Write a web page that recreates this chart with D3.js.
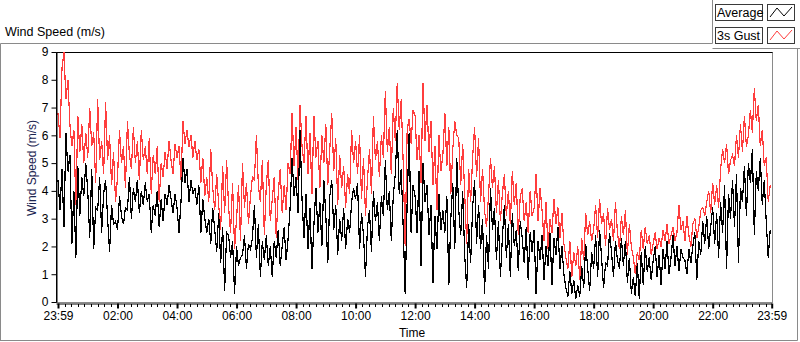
<!DOCTYPE html>
<html>
<head>
<meta charset="utf-8">
<script src="https://cdn.jsdelivr.net/npm/d3@7"></script>
<style>
  body { margin: 0; background: #fff; }
  svg { display: block; font-family: "Liberation Sans", Arial, sans-serif; }
</style>
</head>
<body>
<div id="display"></div>
<script>
// one sample every 4 minutes, 15 per hour, starting 00:00
var sampleStep = 4;

var gust = [
  6.8,5.9,8.4,9.0,7.3,8.0,6.4,5.6,6.2,3.5,6.7,5.4,6.4,5.0,6.1,
  5.2,7.0,5.6,6.1,4.3,7.3,5.1,5.8,4.6,7.2,5.1,6.0,4.2,5.4,3.6,
  4.5,6.2,5.0,5.6,4.1,6.5,5.3,4.8,6.3,5.0,5.8,4.4,6.2,5.1,5.6,
  4.6,5.9,3.9,5.3,4.6,5.6,3.6,5.0,4.5,5.4,4.8,5.8,5.1,4.6,5.7,
  5.2,5.6,4.4,6.5,5.7,6.2,5.6,6.0,5.2,5.8,5.1,5.5,4.3,5.2,3.8,
  4.5,3.6,5.5,4.1,3.3,4.6,3.5,2.6,4.9,3.2,5.1,3.4,2.5,4.3,1.9,
  3.0,4.2,2.2,5.0,3.4,4.3,2.8,3.8,4.5,4.4,6.0,4.2,3.6,5.1,2.4,
  4.2,5.1,2.9,3.7,4.5,2.3,3.9,4.8,3.2,4.2,3.3,5.0,4.6,6.8,4.9,
  6.3,4.4,7.1,5.6,5.0,6.7,4.6,6.1,3.9,6.7,5.2,5.8,4.1,6.0,5.0,
  6.4,4.2,5.5,6.8,4.7,5.9,3.5,5.3,4.1,4.9,3.4,4.6,3.9,6.2,5.0,
  5.8,4.6,6.0,3.7,5.2,3.1,4.4,5.5,3.9,6.7,5.1,5.8,4.5,6.0,5.2,
  7.6,5.4,6.3,4.6,7.0,5.8,7.9,6.2,7.3,5.0,2.0,6.2,6.6,5.7,6.9,
  6.7,5.1,6.0,4.3,7.9,5.8,7.1,5.4,6.5,4.2,5.6,3.3,6.0,4.7,5.3,
  6.8,4.9,6.3,3.9,5.5,6.5,6.0,5.9,4.2,5.7,3.9,2.1,4.8,3.6,5.2,
  6.3,4.5,5.9,3.6,4.8,3.3,2.7,3.8,5.2,4.1,4.9,3.2,4.4,2.9,3.9,
  4.6,3.1,4.0,2.8,4.7,3.5,4.3,2.4,3.8,4.1,2.9,3.6,2.5,4.0,3.1,
  3.4,4.6,2.9,4.1,3.3,2.2,3.6,1.9,3.0,2.5,3.7,2.8,3.4,2.3,3.2,
  2.1,1.6,1.2,2.2,0.9,1.8,1.3,2.0,0.8,2.3,1.5,3.2,2.4,2.9,2.2,
  2.6,3.5,2.3,3.7,2.8,3.2,2.0,3.4,2.6,3.0,2.2,3.6,2.5,1.9,3.1,
  2.4,3.3,1.7,2.8,2.0,1.6,1.0,1.8,1.5,2.6,1.9,2.7,2.1,2.4,1.7,
  2.1,2.5,1.9,2.3,2.0,2.6,2.2,2.8,2.1,2.4,2.7,2.2,2.5,3.5,2.6,
  2.9,2.2,3.1,2.4,2.0,2.8,3.0,2.3,2.7,3.3,3.4,3.1,3.6,4.0,3.2,
  4.3,3.5,4.2,3.4,4.8,5.5,5.0,5.7,4.6,5.1,5.3,4.9,6.0,5.2,6.4,
  5.4,6.7,5.6,6.0,6.9,6.1,7.7,6.5,7.1,5.6,6.2,4.9,5.2,3.6,4.2
];

var average = [
  4.4,3.3,4.8,2.7,6.1,4.7,5.3,2.1,4.0,1.6,4.9,3.1,4.5,3.8,5.0,
  4.0,2.3,4.8,1.9,3.4,3.3,4.5,2.5,3.9,4.4,3.0,1.8,3.5,2.8,2.9,
  2.6,3.8,3.1,2.8,3.4,3.3,4.5,3.0,4.1,3.6,4.4,3.2,4.0,3.5,4.3,
  3.6,3.9,2.5,3.5,3.1,4.0,2.7,3.7,2.9,3.9,3.5,4.2,3.7,3.2,3.9,
  3.4,2.5,3.6,5.2,4.3,4.8,3.6,4.4,3.9,4.1,3.5,4.2,2.5,3.7,3.0,
  2.5,3.0,2.1,3.4,2.6,1.8,3.2,1.4,2.7,0.4,2.5,2.4,1.6,2.2,0.3,
  2.0,1.3,1.6,1.7,2.4,1.2,2.1,1.9,2.3,3.5,1.6,2.8,0.9,2.2,1.5,
  2.4,1.3,2.0,0.9,2.2,1.6,2.6,1.3,2.0,2.7,1.5,2.3,3.4,5.2,3.8,
  4.5,3.2,6.2,3.7,2.3,3.9,1.9,3.4,1.2,2.8,4.1,2.5,3.6,2.0,4.4,
  3.1,1.4,3.8,4.4,2.6,3.5,1.7,3.0,2.2,3.4,1.9,3.0,2.5,3.6,4.1,
  3.7,4.3,1.9,3.2,2.4,0.9,2.7,3.3,1.8,4.0,2.9,3.6,2.2,3.8,3.1,
  5.1,3.3,4.0,2.2,3.8,4.6,6.2,3.9,4.8,2.7,0.3,3.6,6.1,2.5,4.2,
  3.8,2.5,4.7,1.3,5.0,3.6,4.2,2.4,3.5,0.7,3.1,1.9,3.9,2.6,3.3,
  2.5,3.8,0.6,3.0,4.3,1.9,5.2,3.3,2.4,4.0,1.7,0.5,2.8,1.4,3.4,
  4.4,2.1,3.5,1.9,3.0,0.3,2.4,1.2,4.1,2.6,3.4,1.5,2.9,0.9,2.3,
  3.5,1.6,2.8,0.9,3.2,2.0,2.6,1.1,2.9,2.3,1.4,2.7,0.8,2.5,1.8,
  2.6,0.3,2.2,1.5,2.4,0.8,2.0,1.3,2.5,0.6,2.3,1.7,2.7,1.2,2.0,
  1.0,0.5,0.2,1.1,0.3,0.8,0.1,0.6,0.2,1.3,0.5,2.1,1.2,0.4,1.8,
  1.2,2.4,0.9,2.6,1.6,0.5,1.4,1.3,2.5,1.8,0.9,2.2,1.5,1.2,2.3,
  1.3,2.2,0.7,1.6,0.3,0.9,0.2,1.4,0.1,1.8,0.6,2.0,1.1,1.6,0.8,
  1.5,2.0,0.9,1.7,0.6,1.9,1.2,2.2,1.0,1.6,2.4,1.3,2.0,1.1,1.9,
  1.6,1.5,1.0,1.9,1.4,2.0,2.5,0.8,2.2,1.7,2.9,2.1,3.1,1.9,2.7,
  3.4,2.1,3.2,1.6,3.6,2.5,4.2,1.2,3.9,3.0,4.4,2.7,4.6,1.4,4.1,
  3.6,4.9,3.1,5.0,4.3,5.5,2.4,4.7,4.0,5.2,3.5,4.4,2.9,1.6,2.6
];

var timeTicks = [0, 120, 240, 360, 480, 600, 720, 840, 960, 1080, 1200, 1320, 1439];
var timeLabels = ["23:59", "02:00", "04:00", "06:00", "08:00", "10:00", "12:00",
                  "14:00", "16:00", "18:00", "20:00", "22:00", "23:59"];
var speedTicks = [0, 1, 2, 3, 4, 5, 6, 7, 8, 9];
var legendNames = ["Average", "3s Gust"];
var legendColors = ["#000000", "#ff3d3d"];

var width = 800, height = 342;
var plot = {left: 56.5, right: 772.5, top: 52.5, bottom: 302.5};

var svg = d3.select("#display")
    .append("svg")
    .attr("width", width)
    .attr("height", height);

// outer frame
svg.append("path")
    .attr("d", "M0.5,341 V43.5 H712.5 V0 M712.5,48.5 H800 M797.5,48.5 V340.5 H0.5")
    .attr("fill", "none")
    .attr("stroke", "#8a8a8a");

svg.append("text")
    .attr("x", 5)
    .attr("y", 36)
    .style("font-size", "12.5px")
    .text("Wind Speed (m/s)");

var x = d3.scaleLinear()
    .domain([0, 1439])
    .range([58, 771.7]);

var y = d3.scaleLinear()
    .domain([0, 9])
    .range([302, 52]);

// plot frame
svg.append("rect")
    .attr("x", plot.left)
    .attr("y", plot.top)
    .attr("width", plot.right - plot.left)
    .attr("height", plot.bottom - plot.top)
    .attr("fill", "#fff")
    .attr("stroke", "#8a8a8a");
svg.append("path")
    .attr("d", "M" + plot.left + "," + plot.bottom + " V" + plot.top + " H" + plot.right)
    .attr("fill", "none")
    .attr("stroke", "#000");

var line = d3.line()
    .x((d, i) => x(i * sampleStep))
    .y(d => y(d));

// gust first, average drawn on top
svg.append("g")
  .selectAll("path")
  .data([gust, average])
  .join("path")
    .attr("d", line)
    .attr("fill", "none")
    .attr("stroke", (d, i) => i == 0 ? legendColors[1] : legendColors[0])
    .attr("stroke-width", 1.2)
    .attr("shape-rendering", "crispEdges");

// y axis
var yAxis = svg.append("g")
    .attr("transform", "translate(" + plot.left + ",0)")
    .call(d3.axisLeft(y).tickValues(speedTicks).tickSize(5).tickSizeOuter(0).tickPadding(3));
yAxis.select(".domain").attr("stroke", "#000");
yAxis.selectAll("text").style("font-size", "12px").style("font-family", "Liberation Sans, Arial, sans-serif").attr("fill", "#000");

svg.append("text")
    .attr("transform", "translate(36,168) rotate(-90)")
    .attr("text-anchor", "middle")
    .style("font-size", "12px")
    .attr("fill", "#1a2450")
    .text("Wind Speed (m/s)");

// x axis, minor ticks then major
var minorTicks = d3.range(0, 1440, 40 / 3);
svg.append("g")
    .attr("transform", "translate(0,303.5)")
    .call(d3.axisBottom(x).tickValues(minorTicks).tickSize(3).tickFormat(""))
    .call(g => g.select(".domain").remove())
    .selectAll("line").attr("shape-rendering", "crispEdges");

var xAxis = svg.append("g")
    .attr("transform", "translate(0,303.5)")
    .call(d3.axisBottom(x).tickValues(timeTicks).tickSize(5).tickSizeOuter(0)
        .tickPadding(3)
        .tickFormat((d, i) => timeLabels[i]));
xAxis.select(".domain").attr("d", "M" + plot.left + ",0.5H" + (plot.right - 0.5)).attr("stroke", "#000");
xAxis.selectAll("line").attr("stroke-width", 2);
xAxis.selectAll("text").style("font-size", "12px").style("font-family", "Liberation Sans, Arial, sans-serif").attr("fill", "#000");

svg.append("text")
    .attr("x", 412)
    .attr("y", 337)
    .attr("text-anchor", "middle")
    .style("font-size", "12px")
    .text("Time");

// legend
var legend = svg.append("g")
  .selectAll("g")
  .data(legendNames)
  .join("g")
    .attr("transform", (d, i) => "translate(0," + (i * 23) + ")");

legend.append("rect")
    .attr("x", 715.5).attr("y", 4.5)
    .attr("width", 47).attr("height", 16)
    .attr("fill", "#fff").attr("stroke", "#3a3a3a");
legend.append("text")
    .attr("x", 717).attr("y", 17)
    .style("font-size", "12.5px")
    .text(d => d);
legend.append("rect")
    .attr("x", 767.5).attr("y", 4.5)
    .attr("width", 27).attr("height", 16)
    .attr("fill", "#fff").attr("stroke", "#3a3a3a");
legend.append("path")
    .attr("d", "M770,17 L777,8 L784,16 L792,7")
    .attr("fill", "none")
    .attr("stroke", (d, i) => legendColors[i]);
</script>
</body>
</html>
